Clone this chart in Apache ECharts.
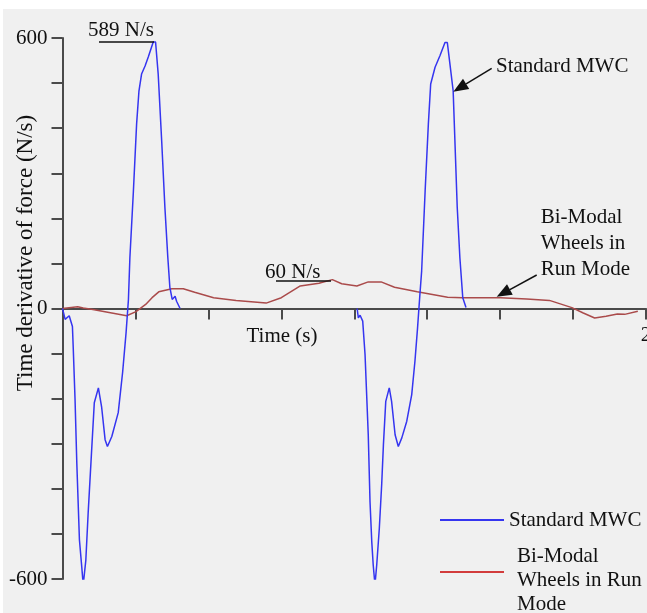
<!DOCTYPE html>
<html>
<head>
<meta charset="utf-8">
<script src="https://cdn.jsdelivr.net/npm/echarts@6/dist/echarts.min.js"></script>
<style>
  html, body { margin: 0; padding: 0; background: #ffffff; }
  #bg { position: absolute; left: 3px; top: 9px; width: 644px; height: 604px; background: #f0f0f0; }
  #chart { position: absolute; left: 0; top: 0; width: 647px; height: 613px; }
</style>
</head>
<body>
<div id="bg"></div>
<div id="chart"></div>
<script>
// ---- Data ----
const blueCycle1Time = [0.000, 0.009, 0.023, 0.034, 0.037, 0.043, 0.049, 0.058, 0.066, 0.071, 0.080, 0.088, 0.100, 0.109, 0.123, 0.134, 0.146, 0.154, 0.169, 0.191, 0.206, 0.218, 0.226, 0.231, 0.243, 0.254, 0.262, 0.271, 0.283, 0.294, 0.311, 0.319, 0.328, 0.340, 0.351, 0.361, 0.368, 0.376, 0.386, 0.391, 0.403];
const blueCycle1Force = [0, -24, -16, -40, -91, -202, -342, -513, -573, -613, -558, -453, -313, -209, -176, -218, -291, -306, -284, -231, -142, -53, 20, 113, 260, 409, 482, 520, 538, 558, 591, 591, 520, 371, 224, 113, 47, 20, 27, 16, 0];
const blueCycle2Time = [1.010, 1.014, 1.020, 1.029, 1.037, 1.043, 1.048, 1.054, 1.060, 1.065, 1.071, 1.077, 1.086, 1.094, 1.100, 1.108, 1.120, 1.128, 1.140, 1.151, 1.163, 1.180, 1.197, 1.208, 1.217, 1.225, 1.231, 1.243, 1.254, 1.262, 1.277, 1.294, 1.311, 1.319, 1.328, 1.339, 1.345, 1.353, 1.362, 1.372, 1.383];
const blueCycle2Force = [0, -21, -15, -28, -102, -199, -280, -428, -517, -569, -613, -569, -487, -391, -302, -206, -176, -206, -280, -306, -287, -250, -191, -117, -43, 31, 83, 261, 409, 498, 535, 561, 590, 590, 542, 483, 372, 224, 113, 24, 2];
const redTime = [0.000, 0.052, 0.071, 0.104, 0.220, 0.252, 0.285, 0.307, 0.330, 0.375, 0.414, 0.453, 0.518, 0.595, 0.698, 0.750, 0.815, 0.879, 0.925, 0.957, 1.009, 1.048, 1.092, 1.138, 1.216, 1.268, 1.320, 1.371, 1.501, 1.591, 1.669, 1.746, 1.785, 1.824, 1.863, 1.902, 1.927, 1.972];
const redForce = [0, 4, 1, -2, -16, -7, 9, 24, 37, 44, 44, 36, 24, 18, 12, 24, 50, 56, 64, 55, 50, 59, 59, 47, 37, 31, 25, 24, 24, 21, 18, 2, -10, -21, -17, -12, -13, -6];
const yTickLabels = [-600, 0, 600];
const xTickLabels = [2];
const seriesNames = ['Standard MWC', 'Bi-Modal Wheels in Run Mode'];

// ---- Build series data ----
const zip = (t, v) => t.map((x, i) => [x, v[i]]);
const blueData = zip(blueCycle1Time, blueCycle1Force).concat([[0.7, '-']], zip(blueCycle2Time, blueCycle2Force));
const redData = zip(redTime, redForce);

const FONT = '"Liberation Serif", "Times New Roman", serif';
const AXIS_COLOR = '#4a4a4a';

function textEl(text, x, y, align, vAlign, size, extra) {
  return Object.assign({
    type: 'text', x: x, y: y, z: 100,
    style: { text: text, fill: '#111', font: (size || 21) + 'px ' + FONT, lineHeight: 26, textAlign: align, textVerticalAlign: vAlign, align: align, verticalAlign: vAlign }
  }, extra || {});
}
function lineEl(x1, y1, x2, y2) {
  return { type: 'line', z: 100, shape: { x1: x1, y1: y1, x2: x2, y2: y2 }, style: { stroke: '#111', lineWidth: 1.5 } };
}
function arrowEls(x1, y1, x2, y2) {
  const dx = x2 - x1, dy = y2 - y1, L = Math.hypot(dx, dy), ux = dx / L, uy = dy / L;
  const hl = 15, hw = 6;
  const bx = x2 - ux * hl, by = y2 - uy * hl;
  return [
    lineEl(x1, y1, bx, by),
    { type: 'polygon', z: 100, shape: { points: [[x2, y2], [bx - uy * hw, by + ux * hw], [bx + uy * hw, by - ux * hw]] }, style: { fill: '#111' } }
  ];
}

const chart = echarts.init(document.getElementById('chart'), null, { renderer: 'canvas' });
chart.setOption({
  animation: false,
  backgroundColor: 'transparent',
  textStyle: { fontFamily: FONT },
  grid: { left: 62.5, right: 1, top: 38, bottom: 34, containLabel: false, outerBoundsMode: 'none' },
  xAxis: {
    type: 'value', min: 0, max: 2, interval: 0.25,
    axisLine: { show: true, onZero: true, lineStyle: { color: AXIS_COLOR, width: 2 } },
    axisTick: { show: true, inside: false, length: 11, lineStyle: { color: AXIS_COLOR, width: 2 } },
    axisLabel: { show: false },
    splitLine: { show: false }
  },
  yAxis: {
    type: 'value', min: -600, max: 600, interval: 100,
    axisLine: { show: true, lineStyle: { color: AXIS_COLOR, width: 2 } },
    axisTick: { show: true, inside: false, length: 11, lineStyle: { color: AXIS_COLOR, width: 2 } },
    axisLabel: {
      margin: 15, color: '#111', fontSize: 21, fontFamily: FONT,
      formatter: v => (yTickLabels.indexOf(v) >= 0 ? String(v) : '')
    },
    splitLine: { show: false }
  },
  legend: [
    {
      orient: 'vertical', left: 440, top: 508, padding: 0,
      itemWidth: 64, itemHeight: 2, icon: 'rect',
      textStyle: { color: '#111', fontSize: 21, fontFamily: FONT, lineHeight: 24 },
      data: [{ name: seriesNames[0], icon: 'rect', itemStyle: { color: '#3535f0' } }]
    },
    {
      orient: 'vertical', left: 440, top: 544, padding: 0,
      itemWidth: 64, itemHeight: 18, icon: 'path://M0,0H64V2H0Z M0,18L0.01,18Z',
      formatter: () => 'Bi-Modal\nWheels in Run\nMode',
      textStyle: { color: '#111', fontSize: 21, fontFamily: FONT, lineHeight: 24, padding: [0, 0, 0, 8] },
      data: [{ name: seriesNames[1], icon: 'path://M0,0H64V2H0Z M0,18L0.01,18Z', itemStyle: { color: '#d23c3c' } }]
    }
  ],
  series: [
    {
      name: seriesNames[0], type: 'line', data: blueData, symbol: 'none', connectNulls: false,
      lineStyle: { color: '#3535f0', width: 1.5 }, itemStyle: { color: '#3535f0' }, z: 3
    },
    {
      name: seriesNames[1], type: 'line', data: redData, symbol: 'none',
      lineStyle: { color: '#aa4b4b', width: 1.5 }, itemStyle: { color: '#aa4b4b' }, z: 2
    }
  ]
});

// Annotations and x tick labels (tick labels placed at their axis values, just below the zero line)
const zeroY = chart.convertToPixel({ yAxisIndex: 0 }, 0);
const graphics = [
  textEl('Time derivative of force (N/s)', 26, 253, 'center', 'middle', 23, { rotation: Math.PI / 2 }),
  textEl('Time (s)', 282, 336, 'center', 'middle'),
  textEl('589 N/s', 88, 30, 'left', 'middle'),
  lineEl(99, 42, 154, 42),
  textEl('60 N/s', 265, 272, 'left', 'middle'),
  lineEl(276, 281, 331, 281),
  textEl('Standard MWC', 496, 66, 'left', 'middle'),
  ...arrowEls(491.7, 68.3, 453.3, 91.7),
  textEl('Bi-Modal\nWheels in\nRun Mode', 540.7, 243, 'left', 'middle'),
  ...arrowEls(536.7, 275, 496.7, 296.7)
].concat(xTickLabels.map(v => textEl(String(v), chart.convertToPixel({ xAxisIndex: 0 }, v), zeroY + 27, 'center', 'middle')));
chart.setOption({ graphic: graphics });
</script>
</body>
</html>
